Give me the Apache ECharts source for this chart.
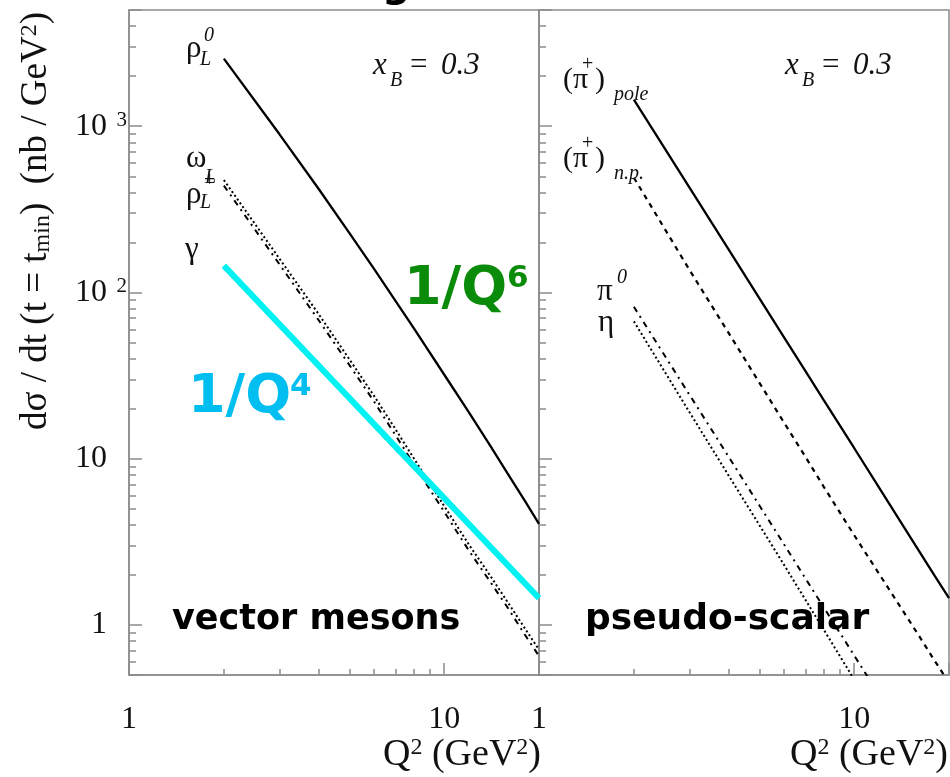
<!DOCTYPE html>
<html><head><meta charset="utf-8">
<script src="https://cdn.jsdelivr.net/npm/echarts@6/dist/echarts.min.js"></script>
<style>html,body{margin:0;padding:0;background:#fff}#c{width:950px;height:777px}</style>
</head><body><div id="c"></div>
<script>
// Q^2 grid (GeV^2)
const q2 = [2, 3, 4, 5, 6, 7, 8, 10, 12, 14, 16, 18, 20];
// vector mesons (left panel)
const rhoL0   = [2550, 897, 419, 228, 138, 89.3, 61.2, 32.1, 18.9, 12.0, 8.0, 5.61, 4.06];
const omegaL  = [475, 160, 74, 39.7, 23.8, 15.1, 10.1, 5.2, 3.03, 1.98, 1.35, 0.96, 0.71];
const rhoLp   = [439, 148, 68, 36.7, 22, 13.9, 9.3, 4.8, 2.79, 1.82, 1.25, 0.88, 0.65];
const gammaV  = [140, 62.5, 35.2, 22.5, 15.6, 11.4, 8.8, 5.63, 3.91, 2.87, 2.2, 1.74, 1.41];
const q4X     = [2, 20];
const q4Y     = [145, 1.45];
// pseudo-scalar (right panel)
const piPole  = [1445, 428, 181, 92.5, 53.5, 33.7, 22.6, 11.6, 6.69, 4.21, 2.82, 1.98, 1.45];
const piNP    = [490, 137, 56.9, 28.7, 16.4, 10.3, 6.8, 3.47, 2.03, 1.29, 0.87, 0.61, 0.45];
const pi0     = [82, 24.3, 10.25, 5.25, 3.04, 1.91, 1.28, 0.656, 0.38, 0.24, 0.16, 0.112, 0.082];
const etaV    = [67, 19.1, 7.9, 4.0, 2.29, 1.42, 0.94, 0.47, 0.27, 0.17, 0.11, 0.078, 0.057];

const SERIF = '"Liberation Serif","Times New Roman",serif';
const FUN = '"Comic Sans MS","DejaVu Sans",sans-serif';
const AX = '#8c8c8c';

function pairs(xs, ys) { return xs.map((x, i) => [x, ys[i]]); }
function line(name, xs, ys, gi, ls, z) {
  return { type: 'line', name, xAxisIndex: gi, yAxisIndex: gi, data: pairs(xs, ys),
    symbol: 'none', silent: true, z: z || 2, clip: true, lineStyle: ls };
}
function txt(x, y, text, font, extra) {
  return { type: 'text', x, y, silent: true, z: 100,
    style: Object.assign({ text, font, fill: '#111', textAlign: 'left', textVerticalAlign: 'middle',
      align: 'left', verticalAlign: 'middle' }, extra || {}) };
}
function richTxt(x, y, text, rich, alignH, rot) {
  return { type: 'text', x, y, rotation: rot || 0, silent: true, z: 100,
    style: { text, rich, fill: '#111', textAlign: alignH, textVerticalAlign: 'middle', align: alignH, verticalAlign: 'middle' } };
}

function xAx(gi) {
  return { type: 'log', logBase: 10, min: 1, max: 20, gridIndex: gi,
    axisLine: { show: true, lineStyle: { color: AX, width: 1.5 } },
    axisTick: { show: true, inside: true, length: 12, lineStyle: { color: AX, width: 1.5 } },
    minorTick: { show: true, splitNumber: 9, length: 6, lineStyle: { color: AX, width: 1.5 } },
    splitLine: { show: false }, minorSplitLine: { show: false },
    axisLabel: { fontFamily: SERIF, fontSize: 32, color: '#111', margin: 29, showMaxLabel: false }
  };
}
function yAx(gi, labels) {
  return { type: 'log', logBase: 10, min: 0.5, max: 5000, gridIndex: gi,
    axisLine: { show: true, lineStyle: { color: AX, width: 1.5 } },
    axisTick: { show: true, inside: true, length: 13, lineStyle: { color: AX, width: 1.5 } },
    minorTick: { show: true, splitNumber: 9, length: 7, lineStyle: { color: AX, width: 1.5 } },
    splitLine: { show: false }, minorSplitLine: { show: false },
    axisLabel: { show: labels, margin: 2, showMinLabel: false, showMaxLabel: false,
      formatter: function (v) {
        const e = Math.round(Math.log10(v));
        if (e === 0) return '{b|1}{s| }';
        if (e === 1) return '{b|10}{s| }';
        return '{b|10}{s|' + e + '}';
      },
      rich: { b: { fontFamily: SERIF, fontSize: 32, lineHeight: 32, color: '#111', verticalAlign: 'middle' },
              s: { fontFamily: SERIF, fontSize: 21, lineHeight: 14, width: 20, align: 'right', color: '#111', verticalAlign: 'top' } } }
  };
}

const blk = (type, w) => ({ color: '#000', width: w || 2, type: type || 'solid' });
const DOT = [2, 2.6], DASH = [5, 5], DASHDOT = [6, 5, 2, 5];

const xNameRich = { n: { fontFamily: SERIF, fontSize: 38, lineHeight: 38, verticalAlign: 'middle', fill: '#111' },
                    s: { fontFamily: SERIF, fontSize: 24, lineHeight: 12, verticalAlign: 'top', fill: '#111' } };
const xNameText = '{n|Q}{s|2}{n| (GeV}{s|2}{n|)}';

const chart = echarts.init(document.getElementById('c'), null, { renderer: 'canvas' });
chart.setOption({
  animation: false,
  backgroundColor: '#fff',
  grid: [
    { left: 129, top: 10, width: 410, height: 665, show: true, borderColor: AX, borderWidth: 1.5, backgroundColor: 'transparent', outerBoundsMode: 'none' },
    { left: 539, top: 10, width: 410, height: 665, show: true, borderColor: AX, borderWidth: 1.5, backgroundColor: 'transparent', outerBoundsMode: 'none' }
  ],
  xAxis: [xAx(0), xAx(1)],
  yAxis: [yAx(0, true), yAx(1, false)],
  series: [
    line('rhoL0', q2, rhoL0, 0, blk('solid', 2.3)),
    line('omegaL', q2, omegaL, 0, blk(DOT, 2)),
    line('rhoL+', q2, rhoLp, 0, blk(DASHDOT, 2)),
    line('gamma', q2, gammaV, 0, blk(DASH, 2), 2),
    line('1/Q4', q4X, q4Y, 0, { color: '#00f2f2', width: 6, type: 'solid' }, 5),
    line('pi+ pole', q2, piPole, 1, blk('solid', 2.3)),
    line('pi+ n.p.', q2, piNP, 1, blk(DASH, 2.2)),
    line('pi0', q2, pi0, 1, blk(DASHDOT, 2)),
    line('eta', q2, etaV, 1, blk(DOT, 2))
  ],
  graphic: [
    // cut-off heading at the top edge
    txt(382, -14, 'g', 'bold 40px ' + FUN, { fill: '#000' }),
    // axis titles
    richTxt(36, 12, '{n|dσ / dt (t = t}{sub|min}{n|)  (nb / GeV}{sup|2}{n|)}',
      { n: { fontFamily: SERIF, fontSize: 37, lineHeight: 37, verticalAlign: 'middle', fill: '#111' },
        sub: { fontFamily: SERIF, fontSize: 24, lineHeight: 24, verticalAlign: 'bottom', fill: '#111' },
        sup: { fontFamily: SERIF, fontSize: 24, lineHeight: 12, verticalAlign: 'top', fill: '#111' } }, 'right', Math.PI / 2),
    richTxt(541, 755, xNameText, xNameRich, 'right'),
    richTxt(948, 755, xNameText, xNameRich, 'right'),
    // left panel labels
    txt(186, 49, 'ρ', '31px ' + SERIF),
    txt(204, 36, '0', 'italic 20px ' + SERIF),
    txt(200, 60, 'L', 'italic 20px ' + SERIF),
    txt(186, 159, 'ω', '31px ' + SERIF),
    txt(205, 178, 'L', 'italic 20px ' + SERIF),
    txt(186, 195, 'ρ', '31px ' + SERIF),
    txt(204, 181, '+', '20px ' + SERIF),
    txt(200, 203, 'L', 'italic 20px ' + SERIF),
    txt(185, 250, 'γ', '31px ' + SERIF),
    txt(373, 66, 'x', 'italic 31px ' + SERIF),
    txt(390, 81, 'B', 'italic 20px ' + SERIF),
    txt(410, 66, '=', '31px ' + SERIF),
    txt(441, 66, '0.3', 'italic 31px ' + SERIF),
    // right panel labels
    txt(563, 80, '(π', '30px ' + SERIF),
    txt(582, 65, '+', '20px ' + SERIF),
    txt(595, 80, ')', '30px ' + SERIF),
    txt(614, 95, 'pole', 'italic 20px ' + SERIF),
    txt(563, 159, '(π', '30px ' + SERIF),
    txt(582, 144, '+', '20px ' + SERIF),
    txt(595, 159, ')', '30px ' + SERIF),
    txt(614, 174, 'n.p.', 'italic 20px ' + SERIF),
    txt(597, 292, 'π', '31px ' + SERIF),
    txt(617, 278, '0', 'italic 20px ' + SERIF),
    txt(598, 323, 'η', '31px ' + SERIF),
    txt(785, 66, 'x', 'italic 31px ' + SERIF),
    txt(802, 81, 'B', 'italic 20px ' + SERIF),
    txt(822, 66, '=', '31px ' + SERIF),
    txt(853, 66, '0.3', 'italic 31px ' + SERIF),
    // highlighted annotations
    txt(404, 290, '1/Q', 'bold 54px ' + FUN, { fill: '#0a8c0a' }),
    txt(507, 279, '6', 'bold 31px ' + FUN, { fill: '#0a8c0a' }),
    txt(188, 398, '1/Q', 'bold 54px ' + FUN, { fill: '#00bff0' }),
    txt(290, 387, '4', 'bold 31px ' + FUN, { fill: '#00bff0' }),
    txt(172, 620, 'vector mesons', 'bold 35px ' + FUN, { fill: '#000' }),
    txt(585, 620, 'pseudo-scalar', 'bold 36px ' + FUN, { fill: '#000' })
  ]
});
</script></body></html>
